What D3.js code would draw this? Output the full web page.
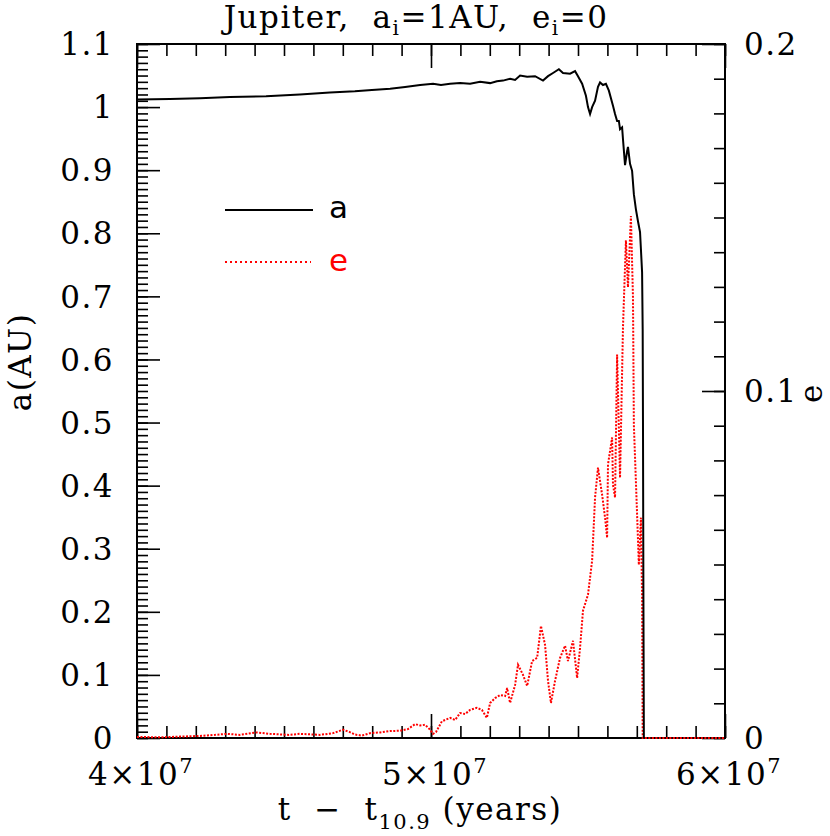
<!DOCTYPE html>
<html lang="en">
<head>
<meta charset="utf-8">
<title>Jupiter a, e</title>
<script src="https://cdn.jsdelivr.net/npm/d3@7"></script>
<style>
  body { margin: 0; background: #fff; }
  svg { display: block; }
  .lbl { font-family: "DejaVu Serif", serif; font-size: 31px; fill: #000; letter-spacing: 1.5px; white-space: pre; }
  .leg { font-family: "DejaVu Sans", sans-serif; font-size: 31px; }
  .axis path { stroke: none; }
  .axis line { stroke: #000; stroke-width: 1.6; }
</style>
</head>
<body>
<div id="chart"></div>
<script>
// time in years, a in AU (left axis)
var tA = [4.000e7, 4.112e7, 4.214e7, 4.316e7, 4.439e7, 4.554e7, 4.656e7, 4.741e7, 4.799e7, 4.861e7,
  4.912e7, 4.963e7, 5.007e7, 5.034e7, 5.065e7, 5.099e7, 5.133e7, 5.167e7, 5.201e7, 5.224e7,
  5.245e7, 5.269e7, 5.286e7, 5.303e7, 5.327e7, 5.354e7, 5.381e7, 5.398e7, 5.415e7, 5.435e7,
  5.449e7, 5.473e7, 5.490e7, 5.500e7, 5.514e7, 5.527e7, 5.534e7, 5.541e7, 5.548e7, 5.558e7,
  5.568e7, 5.575e7, 5.585e7, 5.595e7, 5.605e7, 5.619e7, 5.626e7, 5.633e7, 5.639e7, 5.643e7,
  5.650e7, 5.653e7, 5.660e7, 5.667e7, 5.670e7, 5.677e7, 5.684e7, 5.690e7, 5.697e7, 5.704e7,
  5.711e7, 5.714e7, 5.718e7, 5.720e7, 5.721e7, 5.7225e7, 5.724e7];
var aVals = [1.012, 1.013, 1.014, 1.016, 1.017, 1.020, 1.023, 1.025, 1.027, 1.029,
  1.032, 1.035, 1.037, 1.035, 1.037, 1.038, 1.037, 1.040, 1.038, 1.041,
  1.042, 1.045, 1.043, 1.050, 1.048, 1.049, 1.042, 1.049, 1.054, 1.060,
  1.054, 1.053, 1.057, 1.049, 1.037, 1.018, 1.000, 0.989, 1.000, 1.010,
  1.032, 1.039, 1.035, 1.037, 1.026, 1.002, 0.989, 0.978, 0.978, 0.965,
  0.968, 0.949, 0.908, 0.930, 0.937, 0.910, 0.899, 0.862, 0.838, 0.819,
  0.802, 0.775, 0.738, 0.648, 0.505, 0.220, 0];

// eccentricity (right axis)
var tE = [4.000e7, 4.078e7, 4.146e7, 4.214e7, 4.265e7, 4.306e7, 4.350e7, 4.405e7, 4.452e7, 4.517e7,
  4.554e7, 4.622e7, 4.667e7, 4.701e7, 4.724e7, 4.741e7, 4.765e7, 4.793e7, 4.827e7, 4.861e7,
  4.895e7, 4.922e7, 4.946e7, 4.963e7, 4.980e7, 4.997e7, 5.007e7, 5.017e7, 5.037e7, 5.065e7,
  5.082e7, 5.099e7, 5.116e7, 5.133e7, 5.156e7, 5.173e7, 5.190e7, 5.201e7, 5.218e7, 5.235e7,
  5.252e7, 5.259e7, 5.269e7, 5.286e7, 5.296e7, 5.313e7, 5.327e7, 5.344e7, 5.361e7, 5.374e7,
  5.388e7, 5.398e7, 5.408e7, 5.422e7, 5.439e7, 5.456e7, 5.466e7, 5.483e7, 5.497e7, 5.507e7,
  5.517e7, 5.534e7, 5.548e7, 5.558e7, 5.568e7, 5.582e7, 5.592e7, 5.599e7, 5.602e7, 5.616e7,
  5.619e7, 5.626e7, 5.633e7, 5.643e7, 5.653e7, 5.663e7, 5.670e7, 5.680e7, 5.687e7, 5.690e7,
  5.701e7, 5.707e7, 5.714e7, 5.718e7, 5.720e7, 6.000e7];
var eVals = [0.0003, 0.0002, 0.0004, 0.0006, 0.0009, 0.0012, 0.0009, 0.0016, 0.0012, 0.0009,
  0.0012, 0.0009, 0.0014, 0.0024, 0.0017, 0.0010, 0.0007, 0.0014, 0.0016, 0.0020,
  0.0021, 0.0026, 0.0040, 0.0036, 0.0038, 0.0024, 0.0012, 0.0017, 0.0048, 0.0058,
  0.0052, 0.0072, 0.0069, 0.0081, 0.0087, 0.0081, 0.0058, 0.0101, 0.0115, 0.0124,
  0.0121, 0.0144, 0.0101, 0.0153, 0.0211, 0.0182, 0.0150, 0.0222, 0.0231, 0.0323,
  0.0268, 0.0165, 0.0101, 0.0165, 0.0231, 0.0266, 0.0222, 0.0280, 0.0173, 0.0260,
  0.0367, 0.0413, 0.0511, 0.0693, 0.0779, 0.0701, 0.0635, 0.0577, 0.0788, 0.0866,
  0.0730, 0.0693, 0.1105, 0.0750, 0.1183, 0.1434, 0.1299, 0.1504, 0.1270, 0.0903,
  0.0644, 0.0499, 0.0635, 0.0404, 0, 0];

var aTicks = [0, 0.1, 0.2, 0.3, 0.4, 0.5, 0.6, 0.7, 0.8, 0.9, 1, 1.1];
var aTickLabels = ["0", "0.1", "0.2", "0.3", "0.4", "0.5", "0.6", "0.7", "0.8", "0.9", "1", "1.1"];
var eTicks = [0, 0.1, 0.2];
var eTickLabels = ["0", "0.1", "0.2"];
var tTicks = [4e7, 5e7, 6e7];
var tTickMant = ["4", "5", "6"];

var W = 830, H = 836;
var padL = 137, padR = 725, padT = 44, padB = 738;

var svg = d3.select("#chart").append("svg")
  .attr("width", W)
  .attr("height", H);

var x = d3.scaleLinear().domain([4e7, 6e7]).range([padL, padR]);
var yA = d3.scaleLinear().domain([0, 1.1]).range([padB, padT]);
var yE = d3.scaleLinear().domain([0, 0.2]).range([padB, padT]);

// minor + major ticks, all pointing inward
function addAxis(axis, tr) {
  svg.append("g").attr("class", "axis").attr("transform", tr).call(axis);
}
var minorT = x.ticks(20), minorA = yA.ticks(110), minorE = yE.ticks(20);

addAxis(d3.axisBottom(x).tickValues(minorT).tickSizeInner(-12).tickSizeOuter(0).tickFormat(""), "translate(0," + padB + ")");
addAxis(d3.axisBottom(x).tickValues(tTicks).tickSizeInner(-24).tickSizeOuter(0).tickFormat(""), "translate(0," + padB + ")");
addAxis(d3.axisTop(x).tickValues(minorT).tickSizeInner(-12).tickSizeOuter(0).tickFormat(""), "translate(0," + padT + ")");
addAxis(d3.axisTop(x).tickValues(tTicks).tickSizeInner(-24).tickSizeOuter(0).tickFormat(""), "translate(0," + padT + ")");
addAxis(d3.axisLeft(yA).tickValues(minorA).tickSizeInner(-11).tickSizeOuter(0).tickFormat(""), "translate(" + padL + ",0)");
addAxis(d3.axisLeft(yA).tickValues(aTicks).tickSizeInner(-23).tickSizeOuter(0).tickFormat(""), "translate(" + padL + ",0)");
addAxis(d3.axisRight(yE).tickValues(minorE).tickSizeInner(-11).tickSizeOuter(0).tickFormat(""), "translate(" + padR + ",0)");
addAxis(d3.axisRight(yE).tickValues(eTicks).tickSizeInner(-23).tickSizeOuter(0).tickFormat(""), "translate(" + padR + ",0)");

// frame
svg.append("rect")
  .attr("x", padL).attr("y", padT)
  .attr("width", padR - padL).attr("height", padB - padT)
  .attr("fill", "none").attr("stroke", "#000").attr("stroke-width", 2);

// tick labels
svg.selectAll(".alab").data(aTicks).enter().append("text")
  .attr("class", "lbl")
  .attr("x", 114)
  .attr("y", function(d) { return yA(d); })
  .attr("dy", "0.36em")
  .attr("text-anchor", "end")
  .text(function(d, i) { return aTickLabels[i]; });

svg.selectAll(".elab").data(eTicks).enter().append("text")
  .attr("class", "lbl")
  .attr("x", 744)
  .attr("y", function(d) { return yE(d); })
  .attr("dy", "0.36em")
  .text(function(d, i) { return eTickLabels[i]; });

var tl = svg.selectAll(".tlab").data(tTicks).enter().append("text")
  .attr("class", "lbl")
  .attr("x", function(d) { return x(d) + 4; })
  .attr("y", 785)
  .attr("text-anchor", "middle");
tl.append("tspan").text(function(d, i) { return tTickMant[i] + "\u00d710"; });
tl.append("tspan").attr("dy", -12).attr("font-size", 21).text("7");

// titles
var title = svg.append("text").attr("class", "lbl")
  .attr("x", 416).attr("y", 28).attr("text-anchor", "middle");
title.append("tspan").text("Jupiter,  a");
title.append("tspan").attr("dy", 7).attr("font-size", 20).text("i");
title.append("tspan").attr("dy", -7).text("=1AU,  e");
title.append("tspan").attr("dy", 7).attr("font-size", 20).text("i");
title.append("tspan").attr("dy", -7).text("=0");

var xl = svg.append("text").attr("class", "lbl")
  .attr("x", 420).attr("y", 820).attr("text-anchor", "middle");
xl.append("tspan").text("t  \u2212  t");
xl.append("tspan").attr("dy", 9).attr("font-size", 21).text("10.9");
xl.append("tspan").attr("dy", -9).text(" (years)");

svg.append("text").attr("class", "lbl")
  .attr("transform", "translate(31,362) rotate(-90)")
  .attr("text-anchor", "middle")
  .text("a(AU)");

svg.append("text").attr("class", "lbl")
  .attr("transform", "translate(822,393) rotate(-90)")
  .attr("text-anchor", "middle")
  .text("e");

// data lines
var lineA = d3.line()
  .x(function(d, i) { return x(tA[i]); })
  .y(function(d) { return yA(d); });
var lineE = d3.line()
  .x(function(d, i) { return x(tE[i]); })
  .y(function(d) { return yE(d); });

svg.append("path")
  .attr("d", lineE(eVals))
  .attr("fill", "none")
  .attr("stroke", "#ff0000")
  .attr("stroke-width", 2)
  .attr("stroke-dasharray", "2,1.5");

svg.append("path")
  .attr("d", lineA(aVals))
  .attr("fill", "none")
  .attr("stroke", "#000")
  .attr("stroke-width", 2);

// legend
svg.append("line").attr("x1", 225).attr("x2", 313).attr("y1", 210).attr("y2", 210)
  .attr("stroke", "#000").attr("stroke-width", 2);
svg.append("text").attr("class", "leg").attr("x", 329).attr("y", 218).attr("fill", "#000").text("a");
svg.append("line").attr("x1", 225).attr("x2", 311).attr("y1", 262).attr("y2", 262)
  .attr("stroke", "#ff0000").attr("stroke-width", 2).attr("stroke-dasharray", "2,3");
svg.append("text").attr("class", "leg").attr("x", 329).attr("y", 271).attr("fill", "#ff0000").text("e");
</script>
</body>
</html>
